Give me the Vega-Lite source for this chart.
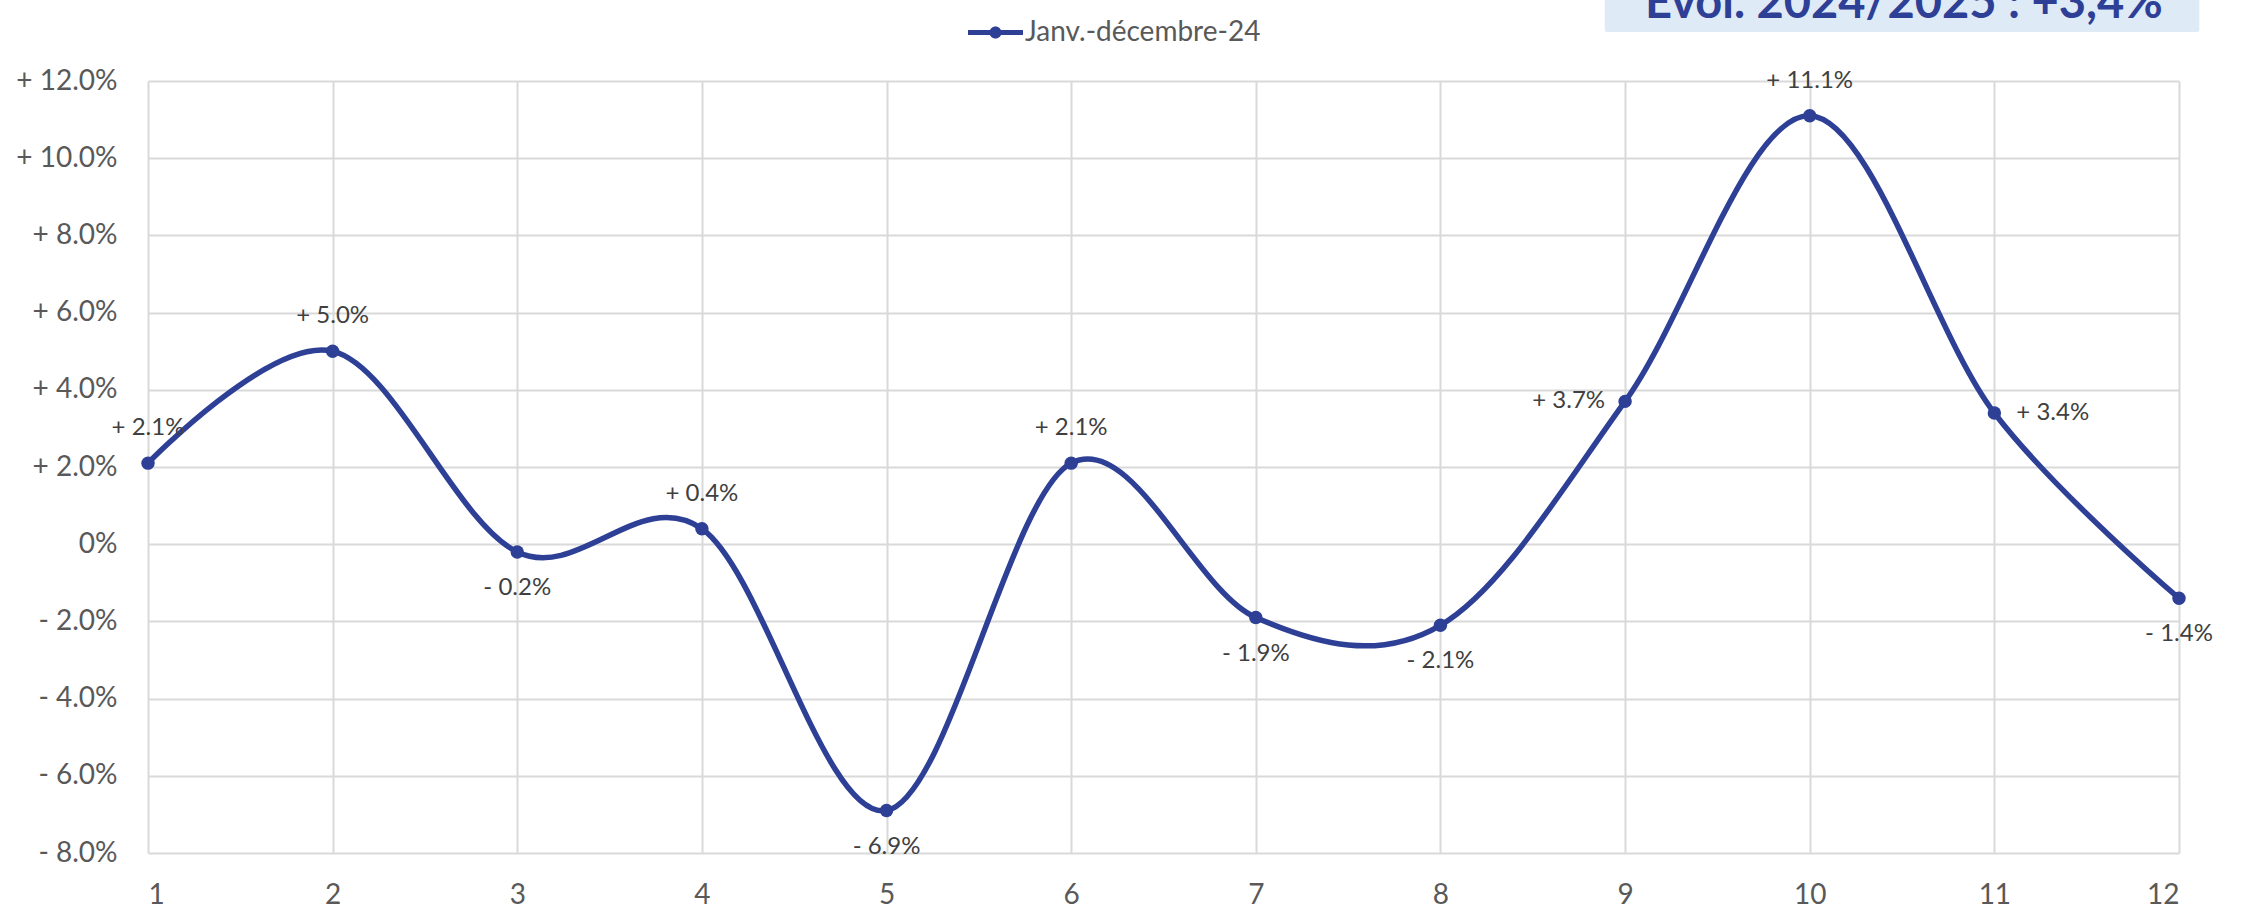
{
  "$schema": "https://vega.github.io/schema/vega-lite/v6.json",
  "width": 2031,
  "height": 772,
  "autosize": {"type": "none"},
  "padding": {"left": 148, "top": 81, "right": 62, "bottom": 57},
  "background": "white",
  "config": {"view": {"stroke": null}, "font": "Lato"},
  "datasets": {
    "evolution": [
      {"mois": 1, "evol": 2.1, "serie": "Janv.-décembre-24"},
      {"mois": 2, "evol": 5.0, "serie": "Janv.-décembre-24"},
      {"mois": 3, "evol": -0.2, "serie": "Janv.-décembre-24"},
      {"mois": 4, "evol": 0.4, "serie": "Janv.-décembre-24"},
      {"mois": 5, "evol": -6.9, "serie": "Janv.-décembre-24"},
      {"mois": 6, "evol": 2.1, "serie": "Janv.-décembre-24"},
      {"mois": 7, "evol": -1.9, "serie": "Janv.-décembre-24"},
      {"mois": 8, "evol": -2.1, "serie": "Janv.-décembre-24"},
      {"mois": 9, "evol": 3.7, "serie": "Janv.-décembre-24"},
      {"mois": 10, "evol": 11.1, "serie": "Janv.-décembre-24"},
      {"mois": 11, "evol": 3.4, "serie": "Janv.-décembre-24"},
      {"mois": 12, "evol": -1.4, "serie": "Janv.-décembre-24"}
    ],
    "encadre": [{"texte": "Evol. 2024/2025 : +3,4%"}]
  },
  "layer": [
    {
      "data": {"name": "encadre"},
      "mark": {"type": "rect", "color": "#DEEAF6", "cornerRadius": 2},
      "encoding": {
        "x": {"datum": 8.89, "type": "quantitative", "scale": {"domain": [1, 12], "nice": false, "zero": false}},
        "x2": {"datum": 12.11},
        "y": {"datum": 13.27, "type": "quantitative", "scale": {"domain": [-8, 12], "nice": false, "zero": false}},
        "y2": {"datum": 15}
      }
    },
    {
      "data": {"name": "encadre"},
      "mark": {"type": "text", "baseline": "alphabetic", "align": "center", "font": "Lato", "fontWeight": "bold", "fontSize": 47, "color": "#2E3F96"},
      "encoding": {
        "x": {"datum": 10.51, "type": "quantitative"},
        "y": {"datum": 13.64, "type": "quantitative"},
        "text": {"field": "texte"}
      }
    },
    {
      "data": {"name": "evolution"},
      "encoding": {
        "x": {
          "field": "mois",
          "type": "quantitative",
          "scale": {"domain": [1, 12], "nice": false, "zero": false},
          "axis": {
            "title": null,
            "values": [1, 2, 3, 4, 5, 6, 7, 8, 9, 10, 11, 12],
            "format": "d",
            "domain": false,
            "ticks": false,
            "grid": true,
            "gridColor": "#D9D9D9",
            "gridWidth": 2,
            "labelFont": "Lato",
            "labelFontSize": 28,
            "labelColor": "#595959",
            "labelPadding": 28
          }
        },
        "y": {
          "field": "evol",
          "type": "quantitative",
          "scale": {"domain": [-8, 12], "nice": false, "zero": false},
          "axis": {
            "title": null,
            "values": [-8, -6, -4, -2, 0, 2, 4, 6, 8, 10, 12],
            "labelExpr": "datum.value > 0 ? '+ ' + format(datum.value, '.1f') + '%' : (datum.value < 0 ? '- ' + format(-datum.value, '.1f') + '%' : '0%')",
            "domain": false,
            "ticks": false,
            "grid": true,
            "gridColor": "#D9D9D9",
            "gridWidth": 2,
            "labelFont": "Lato",
            "labelFontSize": 28,
            "labelColor": "#595959",
            "labelPadding": 31
          }
        }
      },
      "layer": [
        {
          "mark": {"type": "line", "interpolate": "cardinal", "color": "#2E3F96", "strokeWidth": 5.5}
        },
        {
          "mark": {"type": "point", "shape": "circle", "filled": true, "size": 180, "opacity": 1},
          "encoding": {
            "color": {
              "field": "serie",
              "type": "nominal",
              "scale": {"range": ["#2E3F96"]},
              "legend": {
                "title": null,
                "orient": "none",
                "legendX": 820,
                "legendY": -76,
                "padding": 0,
                "symbolType": "M-1,-0.09L1,-0.09L1,0.09L-1,0.09Z M-0.22,0A0.22,0.22,0,1,1,0.22,0A0.22,0.22,0,1,1,-0.22,0Z",
                "symbolSize": 3025,
                "symbolStrokeWidth": 0,
                "symbolOpacity": 1,
                "labelFont": "Lato",
                "labelFontSize": 28,
                "labelColor": "#595959",
                "labelOffset": 2,
                "labelLimit": 0
              }
            }
          }
        },
        {
          "transform": [
            {"filter": {"field": "mois", "oneOf": [1, 2, 4, 6, 10]}},
            {"calculate": "(datum.evol >= 0 ? '+ ' : '- ') + format(abs(datum.evol), '.1f') + '%'", "as": "etiquette"}
          ],
          "mark": {"type": "text", "dy": -35, "baseline": "middle", "align": "center", "font": "Lato", "fontSize": 24, "color": "#404040"},
          "encoding": {"text": {"field": "etiquette"}}
        },
        {
          "transform": [
            {"filter": {"field": "mois", "oneOf": [3, 5, 7, 8, 12]}},
            {"calculate": "(datum.evol >= 0 ? '+ ' : '- ') + format(abs(datum.evol), '.1f') + '%'", "as": "etiquette"}
          ],
          "mark": {"type": "text", "dy": 36, "baseline": "middle", "align": "center", "font": "Lato", "fontSize": 24, "color": "#404040"},
          "encoding": {"text": {"field": "etiquette"}}
        },
        {
          "transform": [
            {"filter": {"field": "mois", "oneOf": [9]}},
            {"calculate": "(datum.evol >= 0 ? '+ ' : '- ') + format(abs(datum.evol), '.1f') + '%'", "as": "etiquette"}
          ],
          "mark": {"type": "text", "dx": -20, "baseline": "middle", "align": "right", "font": "Lato", "fontSize": 24, "color": "#404040"},
          "encoding": {"text": {"field": "etiquette"}}
        },
        {
          "transform": [
            {"filter": {"field": "mois", "oneOf": [11]}},
            {"calculate": "(datum.evol >= 0 ? '+ ' : '- ') + format(abs(datum.evol), '.1f') + '%'", "as": "etiquette"}
          ],
          "mark": {"type": "text", "dx": 22, "baseline": "middle", "align": "left", "font": "Lato", "fontSize": 24, "color": "#404040"},
          "encoding": {"text": {"field": "etiquette"}}
        }
      ]
    }
  ]
}
